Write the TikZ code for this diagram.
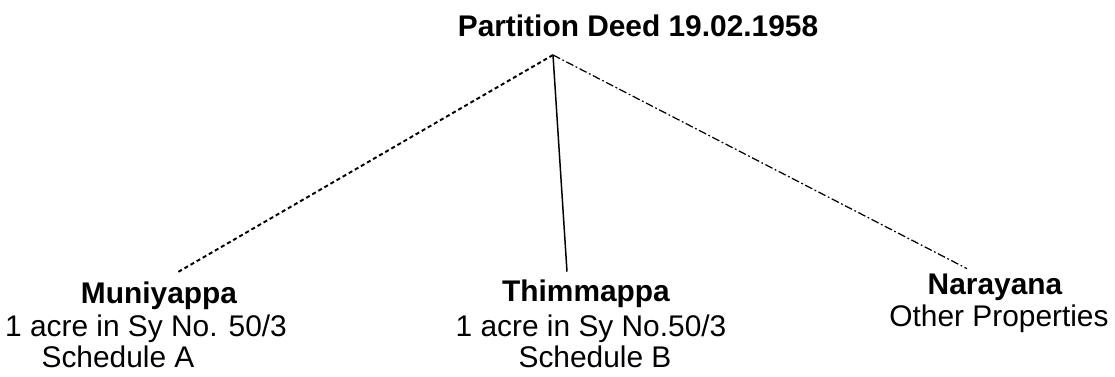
\documentclass[tikz,border=0pt]{standalone}
\usepackage{fontspec}
\setmainfont{Liberation Sans}
\usepackage{tikz}
\usetikzlibrary{calc, positioning}
\tikzstyle{txt}=[inner sep=0pt, anchor=base, text height=0.44cm, text depth=0.09cm, font=\fontsize{17}{20}\selectfont]
\tikzstyle{heir}=[txt, font=\fontsize{17}{20}\selectfont\bfseries]
\tikzstyle{dotLine}=[line width=1.1pt, dash pattern=on 2.3pt off 1.7pt]
\tikzstyle{solidLine}=[line width=0.85pt]
\tikzstyle{dashLine}=[line width=0.7pt, dash pattern=on 4.5pt off 1.5pt on 1pt off 1.5pt]

\begin{document}
\begin{tikzpicture}
    \useasboundingbox (0, 0) rectangle (22.3, 7.54);

    \node (deed)[heir] at (12.76, 6.80) {Partition Deed 19.02.1958};
    \coordinate (apex) at (11.06, 6.44);

    \node (muni)[heir] at (3.18, 1.46) {Muniyappa};
    \node (muni2)[txt] at (2.92, 0.80) {1 acre in Sy No. 50/3};
    \node (muni3)[txt] at (2.36, 0.18) {Schedule A};

    \node (thim)[heir] at (11.72, 1.50) {Thimmappa};
    \node (thim2)[txt] at (11.82, 0.80) {1 acre in Sy No.50/3};
    \node (thim3)[txt] at (11.90, 0.18) {Schedule B};

    \node (nara)[heir] at (19.90, 1.64) {Narayana};
    \node (nara2)[txt] at (19.98, 1.00) {Other Properties};

    \draw[dotLine] (apex) -- ([shift={(0.36, 0.18)}]muni.north);
    \draw[solidLine] (apex) -- ([shift={(-0.38, 0.16)}]thim.north);
    \draw[dashLine] (apex) -- ([shift={(-0.56, 0.08)}]nara.north);

\end{tikzpicture}
\end{document}
